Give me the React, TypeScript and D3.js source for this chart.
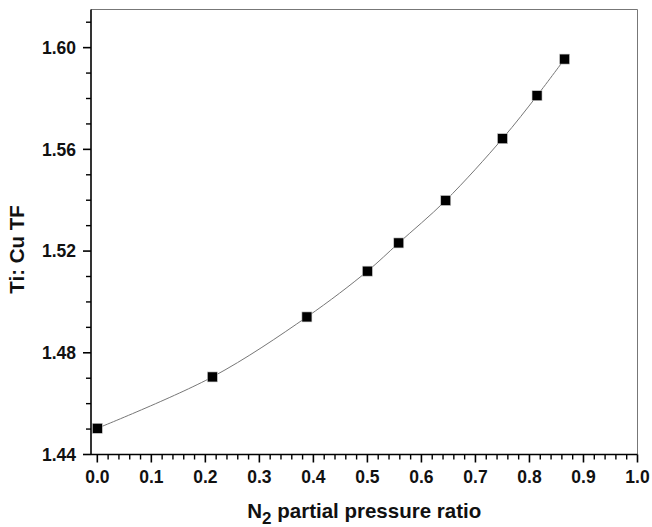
import React from "react";
import * as d3 from "d3";

const ratios = [0.0, 0.213, 0.388, 0.5, 0.558, 0.645, 0.75, 0.814, 0.865];
const tiCu = [1.4503, 1.4705, 1.4941, 1.5121, 1.5232, 1.5399, 1.5642, 1.5811, 1.5955];
const xTicks = [0, 0.1, 0.2, 0.3, 0.4, 0.5, 0.6, 0.7, 0.8, 0.9, 1.0];
const yTicks = [1.44, 1.48, 1.52, 1.56, 1.6];

const W = 652;
const H = 527;
const margin = { top: 9.5, right: 14.5, bottom: 72.5, left: 91 };

const App = () => {
  const innerW = W - margin.left - margin.right;
  const innerH = H - margin.top - margin.bottom;

  const xScale = d3.scaleLinear().domain([-0.0117, 1.0]).range([0, innerW]);
  const yScale = d3.scaleLinear().domain([1.44, 1.615]).range([innerH, 0]);

  const xMinor = d3.range(0, 1.0001, 0.02).filter((v) => Math.round(v * 50) % 5 !== 0);
  const yMinor = d3.range(1.44, 1.6151, 0.01).filter((v) => Math.round(v * 100) % 4 !== 0);

  const points = ratios.map((r, i) => [r, tiCu[i]] as [number, number]);
  const line = d3
    .line<[number, number]>()
    .x((d) => xScale(d[0]))
    .y((d) => yScale(d[1]))
    .curve(d3.curveCatmullRom);

  const font = "'Liberation Sans', Arial, sans-serif";

  return (
    <svg width={W} height={H} style={{ position: "absolute", left: 0, top: 0 }} fontFamily={font}>
      <rect width={W} height={H} fill="#fff" />
      <g transform={`translate(${margin.left},${margin.top})`}>
        {/* frame */}
        <line x1={0} y1={0} x2={innerW} y2={0} stroke="#777" strokeWidth={1} />
        <line x1={innerW} y1={0} x2={innerW} y2={innerH} stroke="#777" strokeWidth={1} />

        {/* curve and markers */}
        <path d={line(points) || ""} fill="none" stroke="#777" strokeWidth={1} />
        {points.map((d, i) => (
          <rect
            key={i}
            x={xScale(d[0]) - 5}
            y={yScale(d[1]) - 5}
            width={10}
            height={10}
            fill="#000"
            stroke="#ccc"
            strokeWidth={0.6}
          />
        ))}

        {/* x axis */}
        <line x1={0} y1={innerH} x2={innerW} y2={innerH} stroke="#000" strokeWidth={1.6} />
        {xTicks.map((t) => (
          <g key={t} transform={`translate(${xScale(t)},${innerH})`}>
            <line y1={0} y2={8} stroke="#000" strokeWidth={1.6} />
            <text y={28} textAnchor="middle" fontSize={17.5} fontWeight="bold" fill="#111">
              {t.toFixed(1)}
            </text>
          </g>
        ))}
        {xMinor.map((t) => (
          <line key={t} x1={xScale(t)} x2={xScale(t)} y1={innerH} y2={innerH + 5} stroke="#000" strokeWidth={1.4} />
        ))}

        {/* y axis */}
        <line x1={0} y1={0} x2={0} y2={innerH} stroke="#000" strokeWidth={1.6} />
        {yTicks.map((t) => (
          <g key={t} transform={`translate(0,${yScale(t)})`}>
            <line x1={0} x2={-8} stroke="#000" strokeWidth={1.6} />
            <text x={-15} dy="0.36em" textAnchor="end" fontSize={17.5} fontWeight="bold" fill="#111">
              {t.toFixed(2)}
            </text>
          </g>
        ))}
        {yMinor.map((t) => (
          <line key={t} y1={yScale(t)} y2={yScale(t)} x1={0} x2={-5} stroke="#000" strokeWidth={1.4} />
        ))}

        {/* axis titles */}
        <text
          x={innerW / 2}
          y={innerH + 63}
          textAnchor="middle"
          fontSize={20.5}
          fontWeight="bold"
          fill="#111"
        >
          N<tspan dy={6} fontSize={17}>2</tspan>
          <tspan dy={-6}> partial pressure ratio</tspan>
        </text>
        <text
          transform={`translate(${-67},${240}) rotate(-90)`}
          textAnchor="middle"
          fontSize={20.5}
          fontWeight="bold"
          fill="#111"
        >
          Ti: Cu TF
        </text>
      </g>
    </svg>
  );
};

export default App;
